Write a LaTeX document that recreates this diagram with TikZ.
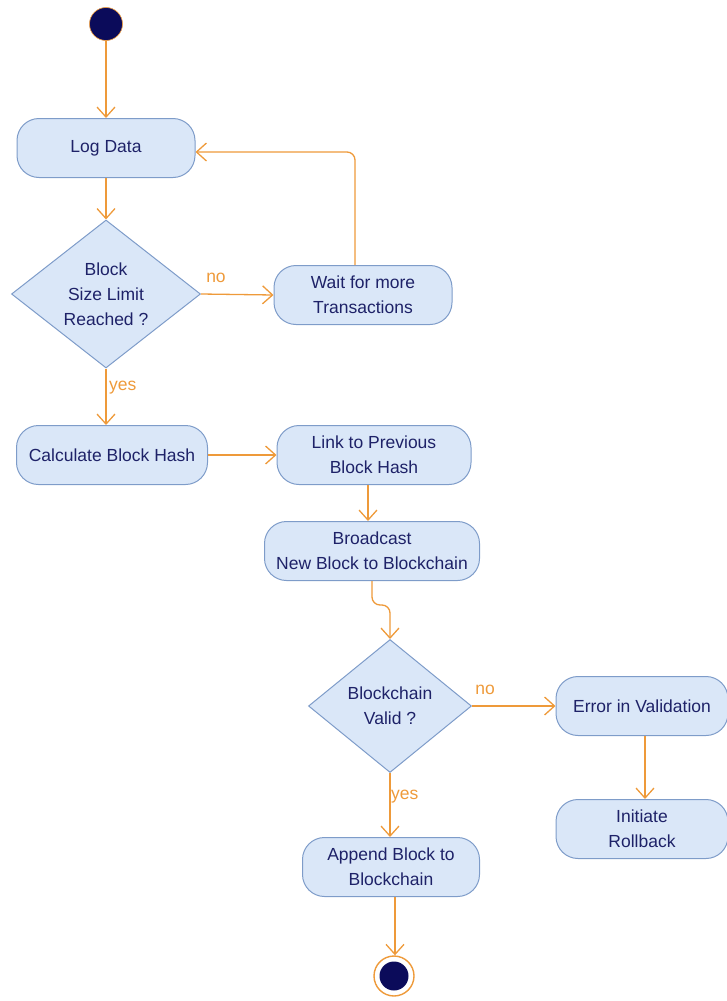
\documentclass[tikz,border=0pt]{standalone}
\usepackage{fontspec}
\setmainfont{Liberation Sans}
\usetikzlibrary{arrows.meta,shapes.geometric,calc}
\definecolor{boxfill}{HTML}{DAE7F8}
\definecolor{boxline}{HTML}{7E9CC9}
\definecolor{ink}{HTML}{1E2268}
\definecolor{flow}{HTML}{EE9A3A}
\definecolor{dot}{HTML}{0B0B5A}

\begin{document}
\begin{tikzpicture}[x=1pt,y=-1pt,
  txt/.style={font=\fontsize{17.5}{25}\selectfont},
  act/.style={txt, draw=boxline, fill=boxfill, rounded corners=22pt, line width=1pt,
    minimum height=59pt, text=ink, align=center, inner sep=0pt},
  dec/.style={txt, diamond, draw=boxline, fill=boxfill, line width=1pt, text=ink,
    align=center, inner sep=0pt},
  flowline/.style={draw=flow, line width=1.3pt, -{Straight Barb[length=10pt,width=18pt]}},
  guard/.style={txt, text=flow, inner sep=0pt}]

\useasboundingbox (0,0) rectangle (726,1001);

% start and end
\node[circle, fill=dot, draw=flow, line width=0.6pt, minimum size=33pt, inner sep=0pt] (start) at (106,24) {};
\node[circle, fill=white, draw=flow, line width=1.4pt, minimum size=40pt, inner sep=0pt] (end) at (394,976) {};
\node[circle, fill=dot, minimum size=29pt, inner sep=0pt] (endin) at (394,976) {};

% actions
\node[act, minimum width=178pt] (log) at (106,148) {Log Data};
\node[dec, minimum width=189pt, minimum height=148pt] (full) at (106,294) {Block\\Size Limit\\Reached ?};
\node[act, minimum width=178pt] (wait) at (363,295) {Wait for more\\Transactions};
\node[act, minimum width=191pt] (hash) at (112,455) {Calculate Block Hash};
\node[act, minimum width=194pt] (link) at (374,455) {Link to Previous\\Block Hash};
\node[act, minimum width=215pt] (bcast) at (372,551) {Broadcast\\New Block to Blockchain};
\node[dec, minimum width=163pt, minimum height=133pt] (valid) at (390,706) {Blockchain\\Valid ?};
\node[act, minimum width=172pt] (error) at (642,706) {Error in Validation};
\node[act, minimum width=172pt] (rollback) at (642,829) {Initiate\\Rollback};
\node[act, minimum width=177pt] (append) at (391,867) {Append Block to\\Blockchain};

% guards
\node[guard] (no1) at (216,278) {no};
\node[guard, anchor=west] (yes1) at (109,388) {yes};
\node[guard] (no2) at (485,690) {no};
\node[guard, anchor=west] (yes2) at (391,797) {yes};

% control flow
\draw[flowline] (start) -- (log);
\draw[flowline] (log) -- (full);
\draw[flowline] (full.east) -- (wait.west);
\draw[flowline, rounded corners=8pt] ([xshift=-8pt]wait.north) |- ($(log.east)+(0,4)$);
\draw[flowline] (full.south) -- (hash.north -| full.south);
\draw[flowline] (hash.east) -- (link.west);
\draw[flowline] ([xshift=-6pt]link.south) -- ([xshift=-6pt]link.south |- bcast.north);
\draw[flowline, rounded corners=8pt] (bcast.south) -- ++(0,24) -| (valid.north);
\draw[flowline] (valid.east) -- (error.west);
\draw[flowline] ([xshift=3pt]error.south) -- ([xshift=3pt]rollback.north);
\draw[flowline] (valid.south) -- (valid.south |- append.north);
\draw[flowline] ([xshift=4pt]append.south) -- ([xshift=4pt]append.south |- end.north);
\end{tikzpicture}
\end{document}
